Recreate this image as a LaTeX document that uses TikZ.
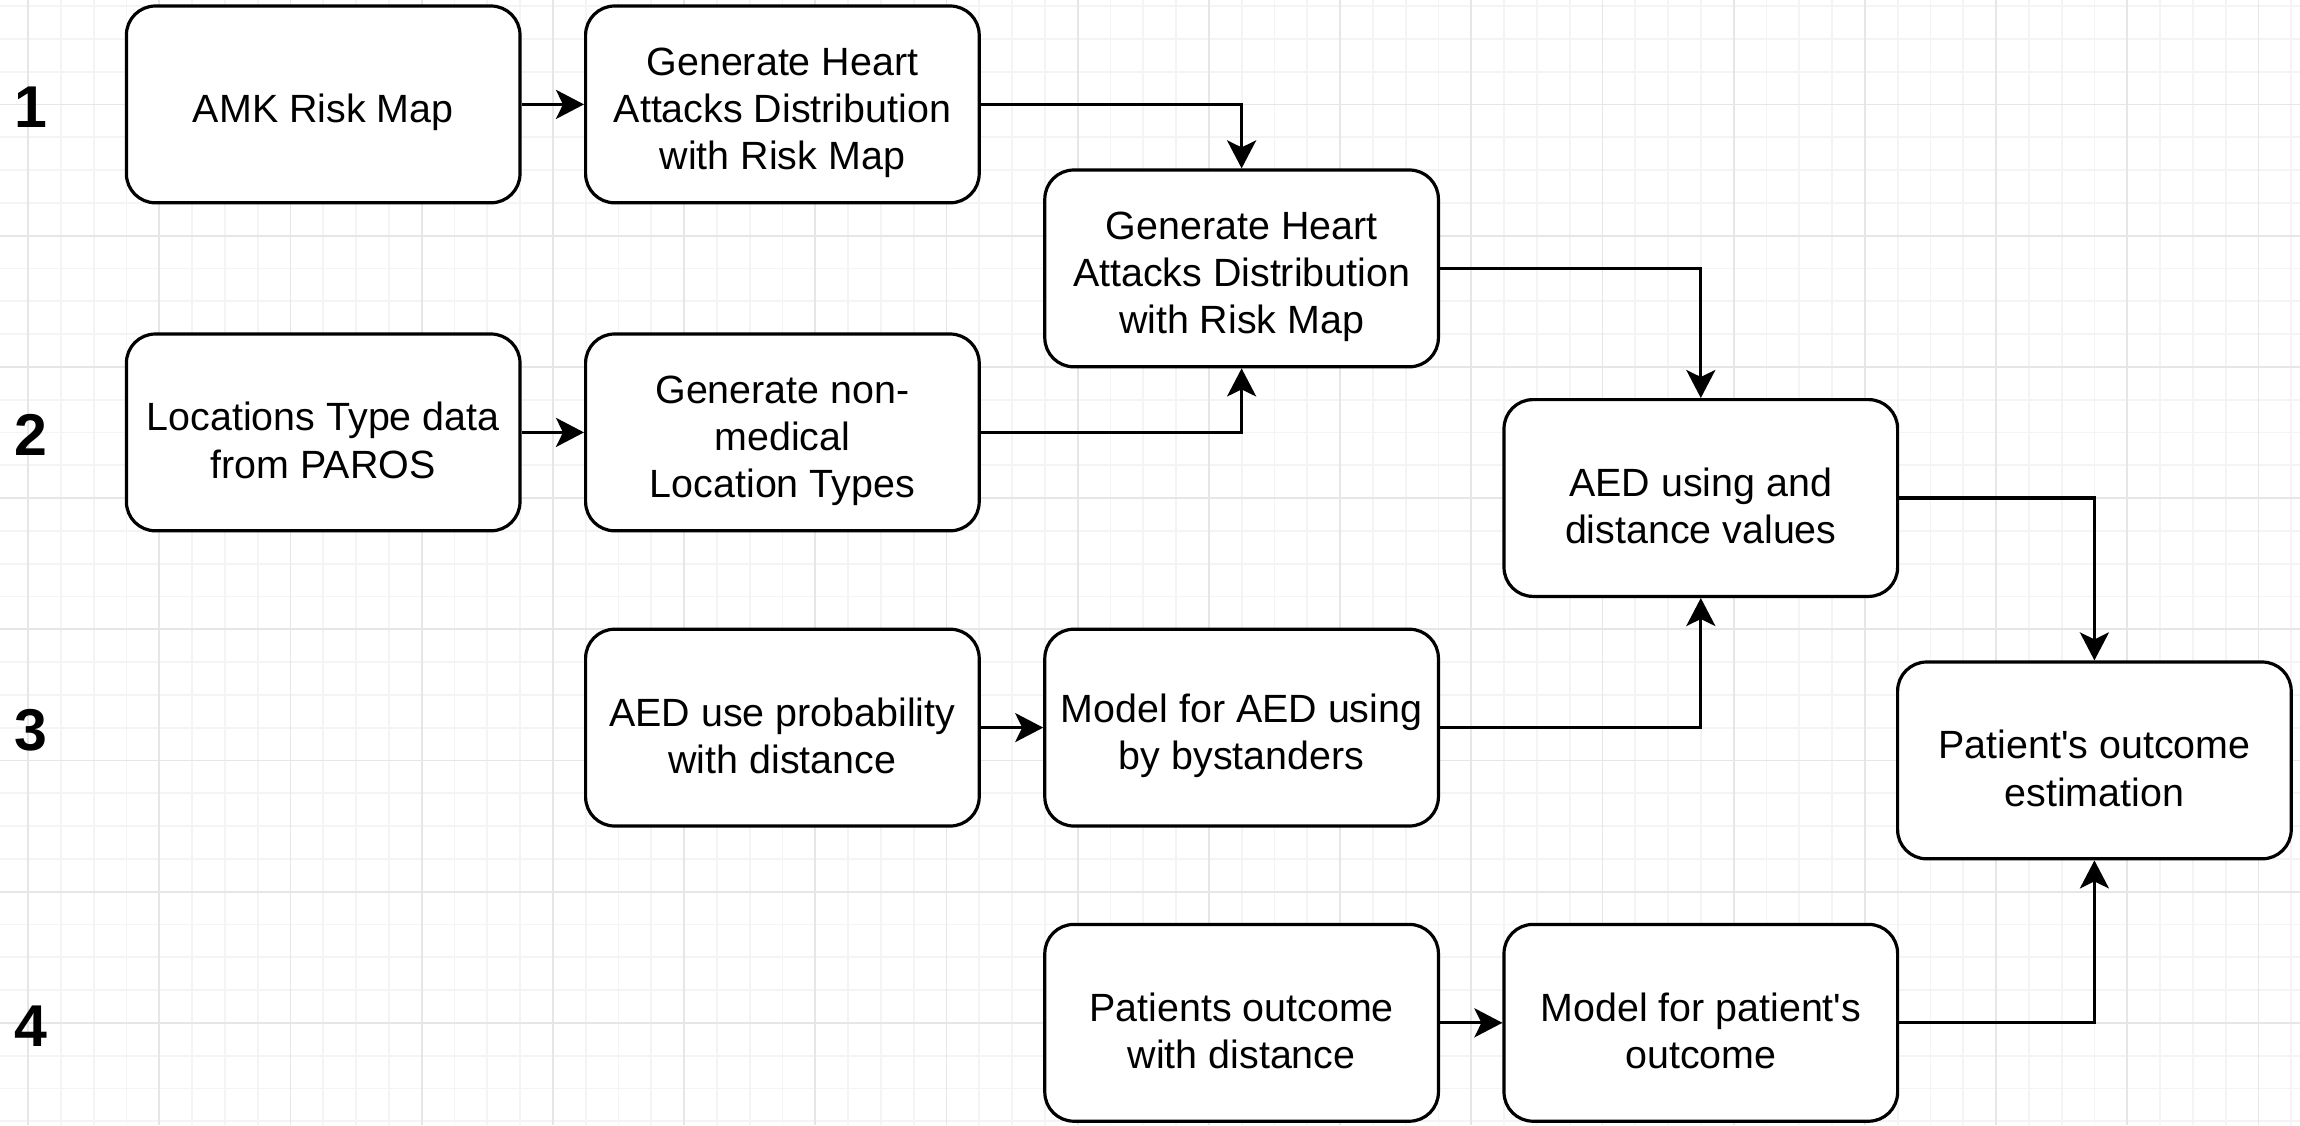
\documentclass[tikz,border=0pt]{standalone}
\usepackage{fontspec}
\setmainfont{Liberation Sans}
\usetikzlibrary{arrows.meta}
\definecolor{gridmajor}{HTML}{E6E6E6}
\definecolor{gridminor}{HTML}{F4F4F4}
\newcommand{\boxstrut}{\rule{0pt}{22.3pt}}
\begin{document}
\begin{tikzpicture}[x=0.5pt,y=-0.5pt,
  box/.style={draw=black, line width=1.6pt, fill=white, rounded corners=14.5pt,
    minimum width=196.8pt, minimum height=98.4pt, align=center, inner sep=0pt,
    font=\fontsize{19.7}{23.6}\selectfont},
  num/.style={font=\fontsize{29.5}{35}\selectfont\bfseries, inner sep=0pt},
  arr/.style={line width=1.6pt, -{Stealth[length=14pt, width=14.5pt, inset=3.5pt]}},
  minorline/.style={draw=gridminor, line width=0.9pt},
  majorline/.style={draw=gridmajor, line width=0.9pt},
]
\fill[white] (0,0) rectangle (2300,1125);
\useasboundingbox (0,0) rectangle (2300,1125);
% grid
\foreach \k in {0,...,69} { \draw[minorline] ({28+32.8*\k},0) -- ({28+32.8*\k},1125); }
\foreach \k in {0,...,34} { \draw[minorline] (0,{6+32.8*\k}) -- (2300,{6+32.8*\k}); }
\foreach \k in {0,4,...,68} { \draw[majorline] ({28+32.8*\k},0) -- ({28+32.8*\k},1125); }
\foreach \k in {3,7,...,31} { \draw[majorline] (0,{6+32.8*\k}) -- (2300,{6+32.8*\k}); }

% row labels
\node[num] (n1) at (31,107) {1};
\node[num] (n2) at (31,435) {2};
\node[num] (n3) at (31,730) {3};
\node[num] (n4) at (31,1026) {4};

% boxes
\node[box] (amk) at (323.2,104.4) {\boxstrut AMK Risk Map};
\node[box] (gen1) at (782.4,104.4) {\boxstrut Generate Heart\\Attacks Distribution\\with Risk Map};
\node[box] (gen2) at (1241.6,268.4) {\boxstrut Generate Heart\\Attacks Distribution\\with Risk Map};
\node[box] (loc) at (323.2,432.4) {\boxstrut Locations Type data\\from PAROS};
\node[box] (nonmed) at (782.4,432.4) {\boxstrut Generate non-\\medical\\Location Types};
\node[box] (aedval) at (1700.8,498) {\boxstrut AED using and\\distance values};
\node[box] (aedprob) at (782.4,727.6) {\boxstrut AED use probability\\with distance};
\node[box] (modelaed) at (1241.6,727.6) {\boxstrut Model for AED using\\by bystanders};
\node[box] (outcome) at (2094.4,760.4) {\boxstrut Patient\textquotesingle s outcome\\estimation};
\node[box] (patout) at (1241.6,1022.8) {\boxstrut Patients outcome\\with distance};
\node[box] (modelpat) at (1700.8,1022.8) {\boxstrut Model for patient\textquotesingle s\\outcome};

% connectors
\draw[arr] (amk.east) -- (gen1.west);
\draw[arr] (loc.east) -- (nonmed.west);
\draw[arr] (aedprob.east) -- (modelaed.west);
\draw[arr] (patout.east) -- (modelpat.west);
\draw[arr] (gen1.east) -| (gen2.north);
\draw[arr] (nonmed.east) -| (gen2.south);
\draw[arr] (gen2.east) -| (aedval.north);
\draw[arr] (modelaed.east) -| (aedval.south);
\draw[arr] (aedval.east) -| (outcome.north);
\draw[arr] (modelpat.east) -| (outcome.south);
\end{tikzpicture}
\end{document}
